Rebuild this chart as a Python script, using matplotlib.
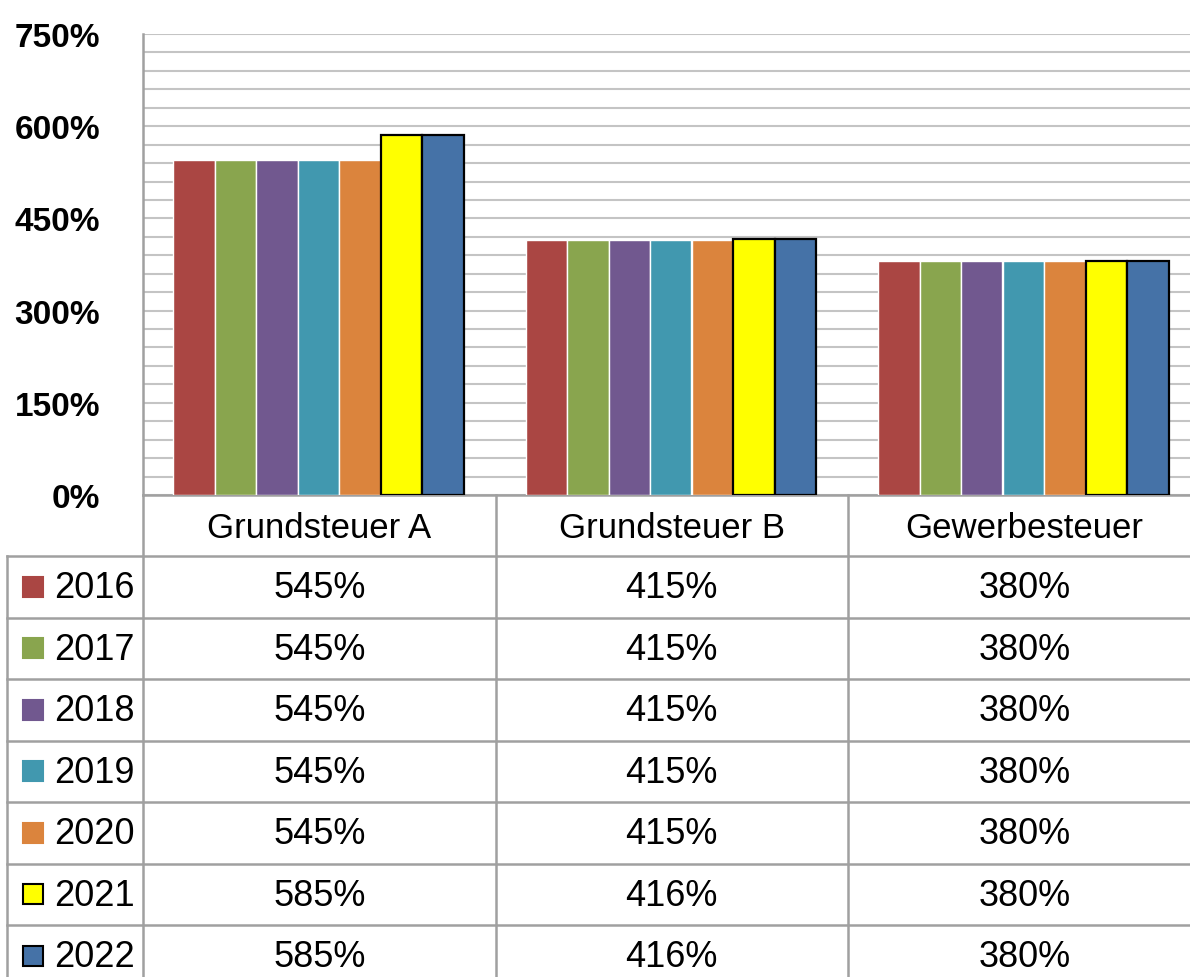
import numpy as np
import matplotlib.pyplot as plt
from matplotlib.patches import Rectangle

# data
categories = ["Grundsteuer A", "Grundsteuer B", "Gewerbesteuer"]
years = ["2016", "2017", "2018", "2019", "2020", "2021", "2022"]
v2016 = [545, 415, 380]
v2017 = [545, 415, 380]
v2018 = [545, 415, 380]
v2019 = [545, 415, 380]
v2020 = [545, 415, 380]
v2021 = [585, 416, 380]
v2022 = [585, 416, 380]
values = [v2016, v2017, v2018, v2019, v2020, v2021, v2022]
colors = ["#AA4643", "#89A54E", "#71588F", "#4198AF", "#DB843D", "#FFFF00", "#4572A7"]
edges = ["white"] * 5 + ["black", "black"]
ytick_vals = [0, 150, 300, 450, 600, 750]

plt.rcParams["font.family"] = ["Liberation Sans", "DejaVu Sans"]

W, H = 1190, 978
fig = plt.figure(figsize=(W / 100, H / 100), dpi=100)

# layout in pixels
x0, col_w = 143, 352.5
y_top, y_zero = 35, 496
ax = fig.add_axes([x0 / W, (H - y_zero) / H, 3 * col_w / W, (y_zero - y_top) / H])

bw = 41.5 / col_w
start = 30 / col_w
for k, (vals, c, e) in enumerate(zip(values, colors, edges)):
    xs = np.arange(len(categories)) + start + bw * (k + 0.5)
    ax.bar(xs, vals, width=bw, color=c, edgecolor=e,
           linewidth=1.6 if e == "black" else 1.0, zorder=3)

ax.set_xlim(0, 3)
ax.set_ylim(0, 750)
ax.set_yticks(ytick_vals)
ax.set_yticklabels([f"{v}%" for v in ytick_vals], fontsize=24, fontweight="bold")
ax.set_yticks(np.arange(0, 751, 30), minor=True)
ax.set_xticks([])
ax.tick_params(axis="y", which="both", length=0, pad=31)
for lab in ax.get_yticklabels():
    lab.set_va("center_baseline")
ax.grid(axis="y", which="both", color="#c4c4c4", linewidth=1.5, zorder=0)
ax.spines["top"].set_visible(False)
ax.spines["right"].set_visible(False)
for s in ["left", "bottom"]:
    ax.spines[s].set_color("#a0a0a0")
    ax.spines[s].set_linewidth(1.8)

# data table below the chart
tab = fig.add_axes([0, 0, 1, 1])
tab.set_xlim(0, W)
tab.set_ylim(H, 0)
tab.axis("off")
tab.patch.set_alpha(0)

line_c = "#a0a0a0"
row_top, row_h = 557, 61.5
for j in range(4):
    tab.plot([x0 + j * col_w] * 2, [y_zero, H], color=line_c, lw=1.8)
tab.plot([7, 7], [row_top, H], color=line_c, lw=1.8)
for k in range(len(years)):
    y = row_top + k * row_h
    tab.plot([7, W], [y, y], color=line_c, lw=1.8)

for j, cat in enumerate(categories):
    tab.text(x0 + (j + 0.5) * col_w, (y_zero + row_top) / 2 + 2, cat,
             fontsize=25, ha="center", va="center")

for k, (yr, vals, c, e) in enumerate(zip(years, values, colors, edges)):
    yc = row_top + (k + 0.5) * row_h
    sq_edge = "black" if e == "black" else c
    tab.add_patch(Rectangle((23, yc - 10), 20, 20, facecolor=c, edgecolor=sq_edge, lw=1.5))
    tab.text(54, yc + 1, yr, fontsize=26, ha="left", va="center")
    for j, v in enumerate(vals):
        tab.text(x0 + (j + 0.5) * col_w, yc + 1, f"{v}%", fontsize=26,
                 ha="center", va="center")

fig.savefig("out.png", dpi=100)
